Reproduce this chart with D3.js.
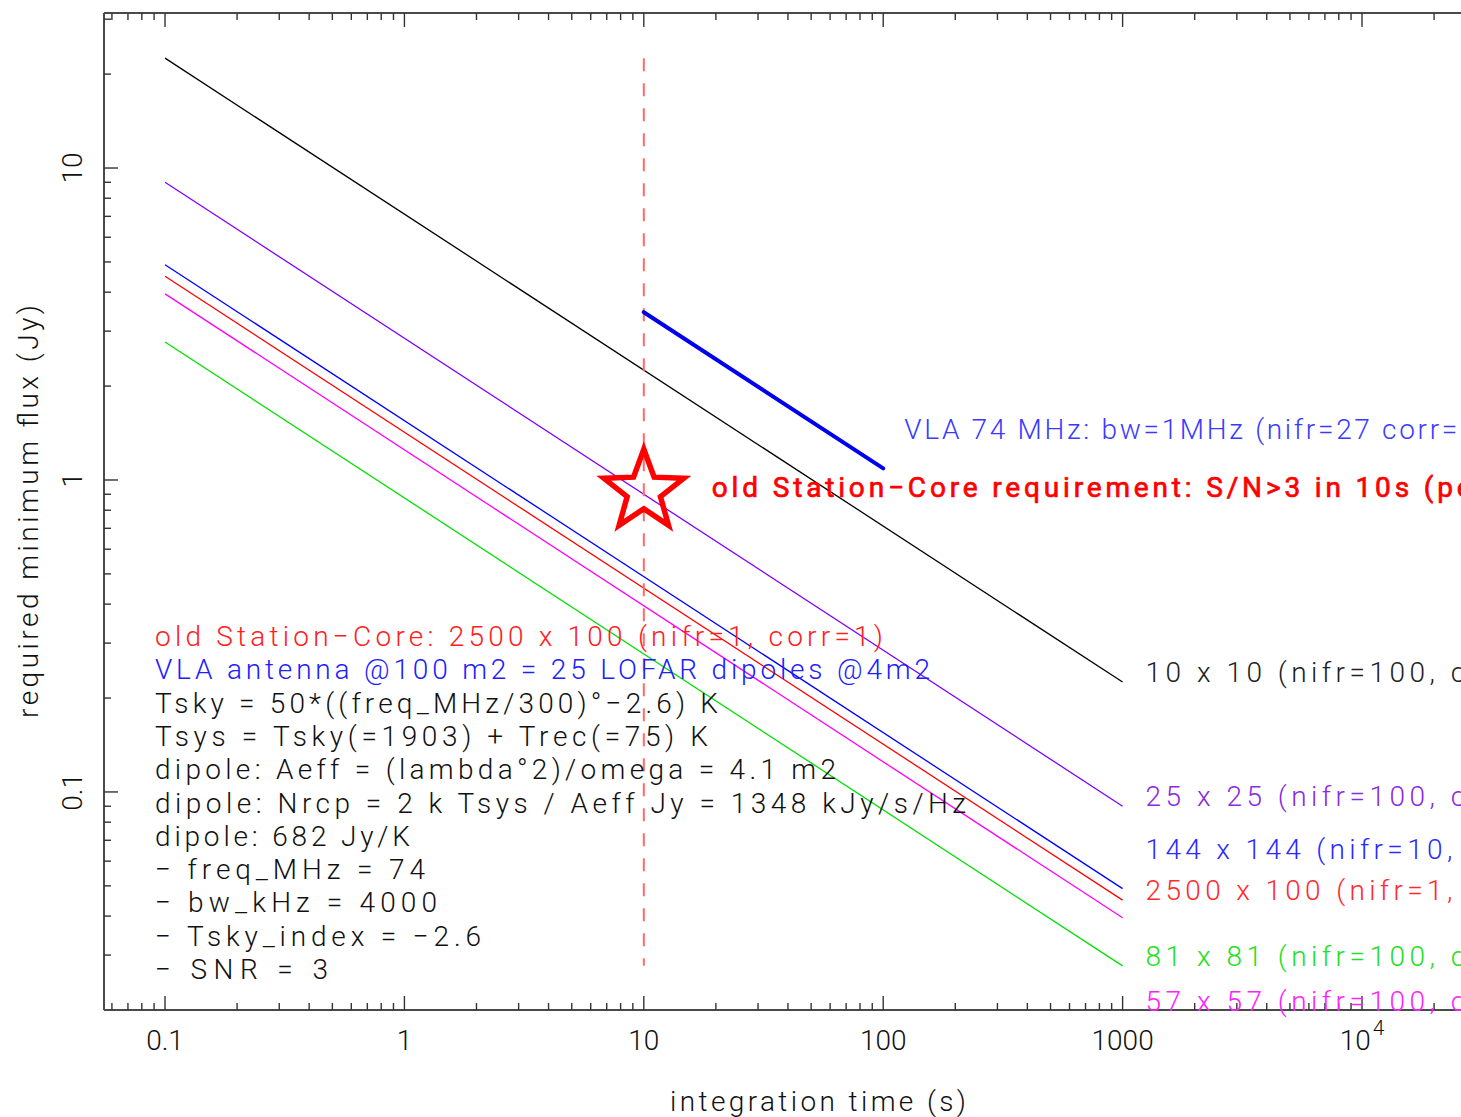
<!DOCTYPE html>
<html>
<head>
<meta charset="utf-8">
<script src="https://cdn.jsdelivr.net/npm/d3@7"></script>
<style>
  html, body { margin: 0; padding: 0; background: #fff; overflow: hidden; }
  svg { display: block; }
</style>
</head>
<body>
<svg id="chart" width="1461" height="1117"></svg>
<script>
// ---------------- data ----------------
const times = [0.1, 1000];
const seriesLabels = [
  "10 x 10 (nifr=100, corr=1)",
  "25 x 25 (nifr=100, corr=1)",
  "144 x 144 (nifr=10, corr=1)",
  "2500 x 100 (nifr=1, corr=1)",
  "81 x 81 (nifr=100, corr=1)",
  "57 x 57 (nifr=100, corr=1)"
];
const seriesValues = [
  [22.5, 0.225],
  [9.0, 0.090],
  [4.9, 0.049],
  [4.5, 0.045],
  [2.77, 0.0277],
  [3.95, 0.0395]
];
// flux at which each right-hand label's baseline sits
const labelFlux = [0.225, 0.090, 0.061, 0.045, 0.0277, 0.0198];
const seriesColors = ["#000000", "#8000ff", "#0000ff", "#ff0000", "#00e000", "#ff00ff"];
const labelColors  = ["#202020", "#8a2be2", "#2a2aff", "#ff2a2a", "#22e022", "#ff22ff"];

const vlaTimes = [10, 100];
const vlaFlux = [3.45, 1.09];
const vlaLabel = "VLA 74 MHz: bw=1MHz (nifr=27 corr=1)";

const reqTime = 10;
const reqFlux = 0.92;
const reqLabelFlux = 0.88;
const reqLabel = "old Station\u2212Core requirement: S/N>3 in 10s (per dipole)";
const reqLineFlux = [22.5, 0.0277];

const infoLines = [
  "old Station\u2212Core: 2500 x 100 (nifr=1, corr=1)",
  "VLA antenna @100 m2 = 25 LOFAR dipoles @4m2",
  "Tsky = 50*((freq_MHz/300)\u00b0\u22122.6) K",
  "Tsys = Tsky(=1903) + Trec(=75) K",
  "dipole: Aeff = (lambda\u00b02)/omega = 4.1 m2",
  "dipole: Nrcp = 2 k Tsys / Aeff Jy = 1348 kJy/s/Hz",
  "dipole: 682 Jy/K",
  "\u2212 freq_MHz = 74",
  "\u2212 bw_kHz = 4000",
  "\u2212 Tsky_index = \u22122.6",
  "\u2212 SNR = 3"
];
const infoWidths = [728, 775, 563, 553, 681, 811, 255, 270, 282, 326, 173];
const infoColors = ["#ff2020", "#2020ff", "#111", "#111", "#111", "#111", "#111", "#111", "#111", "#111", "#111"];

const xTickValues = [0.1, 1, 10, 100, 1000, 10000];
const xTickLabels = ["0.1", "1", "10", "100", "1000", "10^4"];
const yTickValues = [0.1, 1, 10];
const yTickLabels = ["0.1", "1", "10"];
const xTitle = "integration time (s)";
const yTitle = "required minimum flux (Jy)";

// ---------------- layout ----------------
const W = 1461, H = 1117;
const pL = 104, pT = 13, pB = 1010, pR = 1532;
const FONT = "Roboto, 'DejaVu Sans', sans-serif";
const FS = 28;

const svg = d3.select("#chart");
svg.append("rect").attr("width", W).attr("height", H).attr("fill", "#fff");

const x = d3.scaleLog().domain([0.0556, 51300]).range([pL, pR]);
const y = d3.scaleLog().domain([0.02, 31.4]).range([pB, pT]);

const g = svg.append("g");

// ---------------- axes frame & ticks ----------------
const axisColor = "#4a4a4a";
g.append("line").attr("x1", pL).attr("x2", pR).attr("y1", pB).attr("y2", pB)
  .attr("stroke", axisColor).attr("stroke-width", 2);
g.append("line").attr("x1", pL).attr("x2", pR).attr("y1", pT).attr("y2", pT)
  .attr("stroke", axisColor).attr("stroke-width", 2);
g.append("line").attr("x1", pL).attr("x2", pL).attr("y1", pT).attr("y2", pB)
  .attr("stroke", axisColor).attr("stroke-width", 2);

function logTicks(scale) {
  const [a, b] = scale.domain();
  const out = [];
  for (let e = Math.floor(Math.log10(a)); e <= Math.ceil(Math.log10(b)); e++) {
    for (let m = 1; m <= 9; m++) {
      const v = m * Math.pow(10, e);
      if (v >= a * 1.0001 && v <= b) out.push({ v, major: m === 1 });
    }
  }
  return out;
}
const majorLen = 14, minorLen = 7;
logTicks(x).forEach(t => {
  const px = x(t.v), L = t.major ? majorLen : minorLen;
  g.append("line").attr("x1", px).attr("x2", px).attr("y1", pB).attr("y2", pB - L)
    .attr("stroke", "#333").attr("stroke-width", 1.4);
  g.append("line").attr("x1", px).attr("x2", px).attr("y1", pT).attr("y2", pT + L)
    .attr("stroke", "#333").attr("stroke-width", 1.4);
});
logTicks(y).forEach(t => {
  const py = y(t.v), L = t.major ? majorLen : minorLen;
  g.append("line").attr("x1", pL).attr("x2", pL + L).attr("y1", py).attr("y2", py)
    .attr("stroke", "#333").attr("stroke-width", 1.4);
});

// tick labels
xTickValues.forEach((v, i) => {
  const lab = xTickLabels[i];
  const t = g.append("text").attr("x", x(v)).attr("y", 1050)
    .attr("text-anchor", "middle").attr("font-family", FONT).attr("font-weight", 300)
    .attr("font-size", FS).attr("fill", "#111");
  if (lab.includes("^")) {
    const [base, exp] = lab.split("^");
    t.append("tspan").text(base);
    t.append("tspan").attr("dx", 2).attr("dy", -15).attr("font-size", 21).text(exp);
  } else {
    t.text(lab);
  }
});
yTickValues.forEach((v, i) => {
  g.append("text").attr("transform", `translate(82,${y(v)}) rotate(-90)`)
    .attr("text-anchor", "middle").attr("font-family", FONT).attr("font-weight", 300)
    .attr("font-size", FS).attr("fill", "#111").text(yTickLabels[i]);
});

// axis titles
g.append("text").attr("x", (pL + pR) / 2).attr("y", 1111)
  .attr("text-anchor", "middle").attr("font-family", FONT).attr("font-weight", 300)
  .attr("font-size", FS).attr("fill", "#111")
  .attr("textLength", 296).attr("lengthAdjust", "spacing").text(xTitle);
g.append("text").attr("transform", `translate(38,${(pT + pB) / 2}) rotate(-90)`)
  .attr("text-anchor", "middle").attr("font-family", FONT).attr("font-weight", 300)
  .attr("font-size", FS).attr("fill", "#111")
  .attr("textLength", 413).attr("lengthAdjust", "spacing").text(yTitle);

// ---------------- series lines ----------------
const line = d3.line().x(d => x(d[0])).y(d => y(d[1]));
seriesValues.forEach((vals, i) => {
  const pts = times.map((t, k) => [t, vals[k]]);
  g.append("path").attr("d", line(pts)).attr("fill", "none")
    .attr("stroke", seriesColors[i]).attr("stroke-width", 1.3);
});

// right-hand labels
const charW = 16.2;
seriesLabels.forEach((lab, i) => {
  g.append("text").attr("x", x(times[1]) + 23).attr("y", y(labelFlux[i]))
    .attr("font-family", FONT).attr("font-weight", 300).attr("font-size", FS)
    .attr("fill", labelColors[i])
    .attr("textLength", lab.length * charW).attr("lengthAdjust", "spacing").text(lab);
});

// requirement dashed line
g.append("path").attr("d", line(reqLineFlux.map(f => [reqTime, f])))
  .attr("fill", "none").attr("stroke", "#ff6a6a").attr("stroke-width", 2)
  .attr("stroke-dasharray", "13 12");

// VLA thick line
g.append("path").attr("d", line(vlaTimes.map((t, k) => [t, vlaFlux[k]])))
  .attr("fill", "none").attr("stroke", "#0000ee").attr("stroke-width", 4)
  .attr("stroke-linecap", "round");
g.append("text").attr("x", x(vlaTimes[1]) + 21).attr("y", y(1.35))
  .attr("font-family", FONT).attr("font-weight", 300).attr("font-size", FS)
  .attr("fill", "#3a3aff")
  .attr("textLength", vlaLabel.length * charW).attr("lengthAdjust", "spacing").text(vlaLabel);

// star
const cx = x(reqTime), cy = y(reqFlux);
const R = 42, r = 17.5;
const starPts = d3.range(10).map(k => {
  const ang = -Math.PI / 2 + k * Math.PI / 5;
  const rr = k % 2 === 0 ? R : r;
  return [cx + rr * Math.cos(ang), cy + rr * Math.sin(ang)];
});
g.append("path").attr("d", "M" + starPts.map(p => p.join(",")).join("L") + "Z")
  .attr("fill", "none").attr("stroke", "#ff0000").attr("stroke-width", 5.5)
  .attr("stroke-linejoin", "miter").attr("stroke-miterlimit", 10);

g.append("text").attr("x", x(reqTime) + 68).attr("y", y(reqLabelFlux))
  .attr("font-family", FONT).attr("font-weight", 400).attr("font-size", FS)
  .attr("fill", "#ff0000").attr("stroke", "#ff0000").attr("stroke-width", 0.7)
  .attr("textLength", reqLabel.length * 16.3).attr("lengthAdjust", "spacing").text(reqLabel);

// info block
infoLines.forEach((s, i) => {
  g.append("text").attr("x", 155).attr("y", 646 + i * 33.3)
    .attr("font-family", FONT).attr("font-weight", 300).attr("font-size", FS)
    .attr("fill", infoColors[i])
    .attr("textLength", infoWidths[i]).attr("lengthAdjust", "spacing").text(s);
});
</script>
</body>
</html>
